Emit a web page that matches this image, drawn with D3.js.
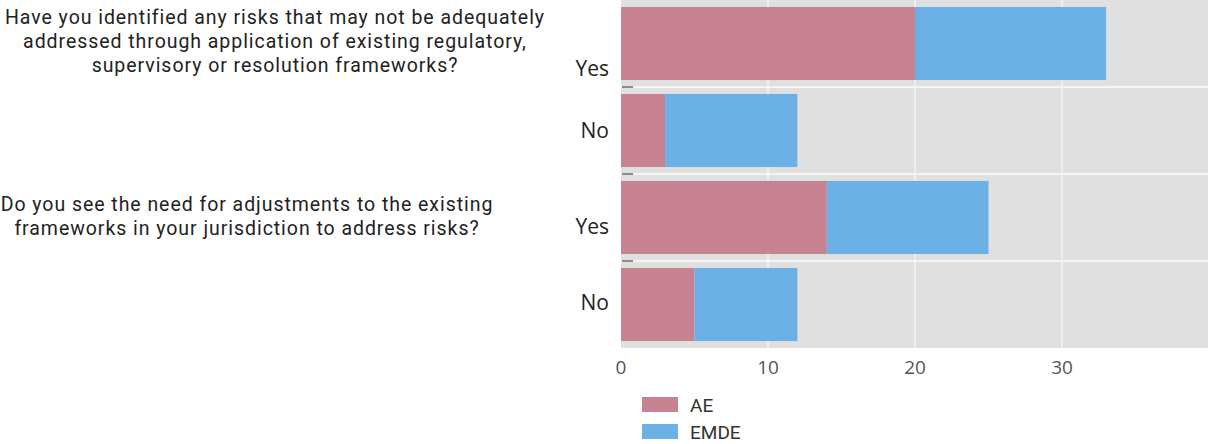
<!DOCTYPE html>
<html><head><meta charset="utf-8">
<script src="https://cdn.jsdelivr.net/npm/d3@7"></script>
<style>body{margin:0;background:#fff;}svg{display:block;font-family:"Open Sans",sans-serif;}</style>
</head><body>
<svg id="c" width="1208" height="444"></svg>
<script>
const rows = ["q1yes","q1no","q2yes","q2no"];
const rowLabels = ["Yes","No","Yes","No"];
const aeValues = [20, 3, 14, 5];
const emdeValues = [13, 9, 11, 7];
const series = ["AE","EMDE"];
const xTicks = [0, 10, 20, 30];
const questions = [
  ["Have you identified any risks that may not be adequately","addressed through application of existing regulatory,","supervisory or resolution frameworks?"],
  ["Do you see the need for adjustments to the existing","frameworks in your jurisdiction to address risks?"]
];

const colors = {AE:"#c78391", EMDE:"#6cb1e6"};
const svg = d3.select("#c");
const x = d3.scaleLinear().domain([0,40]).range([621,1209]);
const y = d3.scaleBand().domain(rows).range([0,348]).paddingInner(0.16).paddingOuter(0.08);

// panel
svg.append("rect").attr("x",x(0)).attr("y",0).attr("width",1208-x(0)).attr("height",348).attr("fill","#e0e0e0");
// vertical grid
svg.selectAll(".vg").data(xTicks.filter(d=>d>0)).join("line")
  .attr("x1",d=>x(d)).attr("x2",d=>x(d)).attr("y1",0).attr("y2",348)
  .attr("stroke","#f4f4f4").attr("stroke-width",1.5);
// horizontal separators
const seps = rows.map(r=>y(r)+y.bandwidth()+ (y.step()-y.bandwidth())/2);
svg.selectAll(".hg").data(seps.slice(0,3)).join("line")
  .attr("x1",x(0)).attr("x2",1208).attr("y1",d=>d).attr("y2",d=>d)
  .attr("stroke","#f4f4f4").attr("stroke-width",2);
svg.selectAll(".dash").data(seps.slice(0,3)).join("line")
  .attr("x1",x(0)+1).attr("x2",x(0)+12).attr("y1",d=>d).attr("y2",d=>d)
  .attr("stroke","#6a6a6a").attr("stroke-width",1.5);

// bars
const stacked = rows.map((r,i)=>({r, ae:aeValues[i], emde:emdeValues[i]}));
svg.selectAll(".ae").data(stacked).join("rect")
  .attr("x",x(0)).attr("y",d=>y(d.r)).attr("height",y.bandwidth())
  .attr("width",d=>x(d.ae)-x(0)).attr("fill",colors.AE);
svg.selectAll(".em").data(stacked).join("rect")
  .attr("x",d=>x(d.ae)).attr("y",d=>y(d.r)).attr("height",y.bandwidth())
  .attr("width",d=>x(d.ae+d.emde)-x(d.ae)).attr("fill",colors.EMDE);

// row labels
const labelShift = [25, 0, 9, -2];
svg.selectAll(".rl").data(rows).join("text")
  .attr("x",609).attr("y",(d,i)=>y(d)+y.bandwidth()/2+labelShift[i])
  .attr("dy","0.35em").attr("text-anchor","end")
  .attr("font-size",21).attr("fill","#222").text((d,i)=>rowLabels[i]);

// x axis labels
svg.selectAll(".xt").data(xTicks).join("text")
  .attr("x",d=>x(d)).attr("y",367).attr("dy","0.35em").attr("text-anchor","middle")
  .attr("font-size",19).attr("fill","#555").text(d=>d);

// questions
const qCenters = [275, 247];
const qTop = [24, 211];
questions.forEach((lines,qi)=>{
  svg.append("g").selectAll("text").data(lines).join("text")
    .attr("x",qCenters[qi]).attr("y",(d,i)=>qTop[qi]+i*24)
    .attr("text-anchor","middle").attr("font-family","Roboto, sans-serif")
    .attr("font-size",19.5).attr("letter-spacing",0.95).attr("fill","#222").text(d=>d);
});

// legend
const lg = svg.append("g");
series.forEach((s,i)=>{
  lg.append("rect").attr("x",642).attr("y",397+i*27).attr("width",36).attr("height",15).attr("fill",colors[s]);
  lg.append("text").attr("x",690).attr("y",405+i*27).attr("dy","0.35em")
    .attr("font-family","Roboto, sans-serif").attr("font-size",19).attr("fill","#333").text(s);
});
</script>
</body></html>
